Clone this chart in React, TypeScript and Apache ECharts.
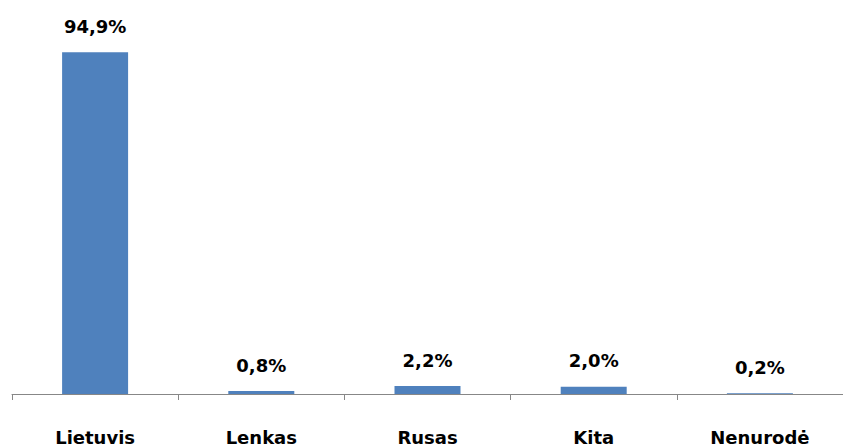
import React, { useEffect, useRef } from "react";
import * as echarts from "echarts";

const categories = ["Lietuvis", "Lenkas", "Rusas", "Kita", "Nenurodė"];
const values = [94.9, 0.8, 2.2, 2.0, 0.2];

export default function App() {
  const ref = useRef<HTMLDivElement>(null);
  useEffect(() => {
    const chart = echarts.init(ref.current!, null, { renderer: "svg" });
    chart.setOption({
      animation: false,
      backgroundColor: "#ffffff",
      grid: { left: 12, top: 34, width: 838, height: 360, containLabel: false },
      xAxis: {
        type: "category",
        data: categories,
        axisLine: { lineStyle: { color: "#878787", width: 1 } },
        axisTick: { show: true, length: 6, alignWithLabel: false, lineStyle: { color: "#878787" } },
        axisLabel: {
          interval: 0,
          margin: 34,
          color: "#000",
          fontFamily: "DejaVu Sans",
          fontWeight: "bold",
          fontSize: 18,
        },
      },
      yAxis: {
        type: "value",
        min: 0,
        max: 100,
        show: false,
        splitLine: { show: false },
      },
      series: [
        {
          type: "bar",
          data: values,
          barWidth: 66,
          itemStyle: { color: "#4F81BD" },
          label: {
            show: true,
            position: "top",
            distance: 17,
            color: "#000",
            fontFamily: "DejaVu Sans",
            fontWeight: "bold",
            fontSize: 18,
            formatter: (p: any) => p.value.toFixed(1).replace(".", ",") + "%",
          },
        },
      ],
    });
    return () => chart.dispose();
  }, []);
  return (
    <div
      ref={ref}
      style={{ position: "absolute", left: 0, top: 0, width: 843, height: 447, overflow: "hidden" }}
    />
  );
}
